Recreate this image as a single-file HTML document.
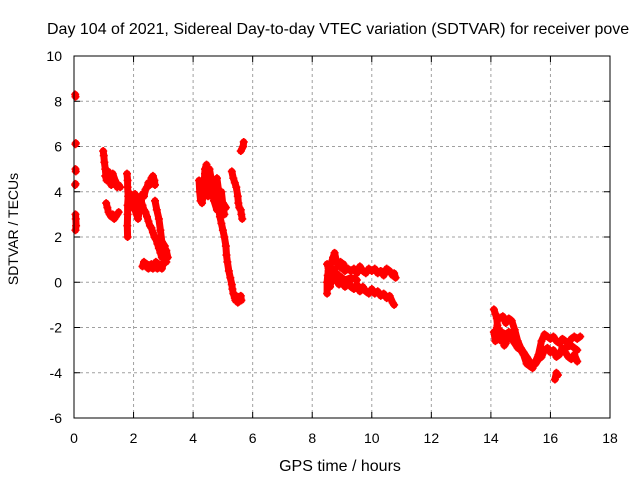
<!DOCTYPE html>
<html><head><meta charset="utf-8"><style>
body{margin:0;background:#fff}
svg{display:block;font-family:"Liberation Sans",sans-serif}
</style></head><body>
<svg id="chart" width="640" height="480">
<text x="47" y="34" font-size="16" text-anchor="start">Day 104 of 2021, Sidereal Day-to-day VTEC variation (SDTVAR) for receiver pove</text>
<text x="340" y="471" font-size="16" text-anchor="middle">GPS time / hours</text>
<text transform="translate(18,229) rotate(-90)" font-size="14" text-anchor="middle">SDTVAR / TECUs</text>
<g id="grid"></g><g id="ticks"></g><g id="marks"></g>
<rect x="74" y="56" width="536" height="362" fill="none" stroke="#000"/>
</svg>
<script>
const xTicks=[0,2,4,6,8,10,12,14,16,18];
const yTicks=[-6,-4,-2,0,2,4,6,8,10];
// null separates disjoint tracks
const timesA=[0.04,0.05,null,0.05,0.06,null,0.05,0.06,null,0.04,0.05,null,0.05,0.07,0.06,0.05];
const valuesA=[8.3,8.2,null,6.1,6.15,null,5.0,4.9,null,4.3,4.35,null,2.3,2.5,2.8,3.0];
const timesB=[0.98,1.0,1.02,1.05,1.07,1.1,1.12,1.15,1.2,1.25,1.3,1.35,1.4,1.45,1.5,1.55,null,1.08,1.12,1.16,1.2,1.25,1.3,1.35,1.4,1.45,1.5,null,1.05,1.1,1.15,1.2,1.3,1.38];
const valuesB=[5.8,5.6,5.3,5.0,4.7,4.5,4.8,4.6,4.5,4.3,4.6,4.4,4.4,4.2,4.3,4.2,null,3.5,3.3,3.1,3.0,2.9,3.0,2.8,2.9,3.0,3.1,null,4.7,4.5,4.9,4.6,4.8,4.5];
const timesC=[1.78,1.8,1.8,1.82,1.8,1.8,1.79,1.8,null,1.85,1.9,1.95,2.0,2.05,2.1,2.15,2.2,2.25,2.3,2.35,2.4,2.45,2.5,2.55,2.6,2.65,2.7,2.72];
const valuesC=[4.8,4.5,4.2,3.8,3.4,3.0,2.5,2.0,null,3.5,3.3,3.8,3.6,3.9,3.7,3.4,3.3,3.6,3.9,3.8,4.1,4.2,4.4,4.3,4.6,4.7,4.5,4.3];
const timesD=[1.9,1.95,2.0,2.05,2.1,2.15,2.2,2.25,2.3,2.35,2.4,2.45,2.5,2.55,2.6,2.65,2.7,2.75,2.8,2.85,2.9,2.95,3.0,3.05,3.1,3.15,null,2.72,2.78,2.85,2.9,2.95,3.05];
const valuesD=[3.9,3.6,3.4,3.2,3.0,2.8,3.2,3.6,3.4,3.2,3.1,2.9,2.7,2.5,2.4,2.2,2.0,1.9,1.7,1.5,1.3,1.1,1.2,1.5,1.4,1.1,null,3.6,3.2,2.8,2.3,1.8,1.6];
const timesE=[2.3,2.35,2.4,2.45,2.5,2.55,2.6,2.65,2.7,2.75,2.8,2.85,2.9,2.95,3.0,3.05,3.1];
const valuesE=[0.7,0.9,0.7,0.8,0.6,0.7,0.8,0.6,0.7,0.9,0.6,0.8,0.7,0.6,0.8,1.0,0.9];
const timesF=[4.2,4.22,4.25,4.3,4.35,4.4,4.45,4.5,4.55,4.6,4.65,4.7,4.75,4.8,4.85,4.9,4.95,5.0,5.05,null,4.3,4.4,4.5,4.6,4.7,4.8,4.9,5.0,5.1,null,4.4,4.6,4.75];
const valuesF=[4.5,4.0,3.6,4.3,3.9,5.0,5.2,4.9,5.0,4.6,4.2,3.8,4.4,4.6,4.1,3.7,4.0,3.4,3.0,null,3.5,4.4,3.8,4.3,3.6,3.2,3.9,3.5,3.3,null,4.8,4.5,4.2];
const timesG=[4.85,4.9,4.95,5.0,5.05,5.1,5.12,5.15,5.2,5.25,5.3,5.32,5.35,5.4,5.42,5.45,5.5,5.55,5.6,5.62];
const valuesG=[3.3,2.9,2.6,2.3,2.0,1.6,1.2,0.9,0.5,0.2,-0.1,-0.3,-0.5,-0.7,-0.8,-0.6,-0.9,-0.7,-0.6,-0.8];
const timesH=[5.3,5.35,5.4,5.45,5.5,5.52,5.55,5.6,5.62,5.65,null,5.6,5.68,5.7];
const valuesH=[4.9,4.6,4.4,4.2,3.8,3.5,3.3,3.2,3.0,2.8,null,5.8,6.0,6.2];
const timesI=[8.5,8.5,8.52,8.55,8.6,8.65,8.7,8.75,8.8,8.85,8.9,8.95,9.0,9.05,9.1,9.2,9.3,9.4,9.5,9.6,9.7,9.8,9.9,10.0,10.1,10.2,10.3,10.4,10.5,10.6,10.7,10.75,10.8,null,8.5,8.6,8.7,8.8,8.9,9.0,9.1,9.2,9.3,9.4,9.5,9.6,9.7,9.8,9.9,10.0,10.1,10.2,10.3,10.4,10.5,10.6,10.7,10.75,null,8.55,8.7,8.9,9.1,9.3,9.5,null,8.6,8.7,8.8,8.9,9.0];
const valuesI=[-0.5,0.0,0.3,0.6,0.8,0.9,1.1,1.3,1.0,0.8,0.7,0.9,0.6,0.8,0.5,0.6,0.5,0.6,0.4,0.7,0.5,0.4,0.6,0.5,0.6,0.4,0.5,0.3,0.6,0.5,0.3,0.4,0.2,null,0.8,0.4,0.2,0.1,-0.1,0.0,-0.2,0.1,-0.2,-0.3,-0.1,-0.4,-0.2,-0.4,-0.5,-0.3,-0.5,-0.4,-0.6,-0.5,-0.7,-0.6,-0.9,-1.0,null,0.5,0.2,0.3,0.1,0.2,0.1,null,-0.2,0.6,0.4,0.3,0.2];
const timesJ=[14.1,14.15,14.2,14.22,14.25,14.3,14.35,14.4,14.45,14.5,14.55,14.6,14.7,14.8,14.9,15.0,15.1,15.2,15.3,15.4,15.5,15.6,15.7,15.8,15.9,16.0,16.1,16.2,16.3,16.4,16.5,16.6,16.7,16.8,16.9,17.0,null,14.3,14.4,14.5,14.6,14.7,14.8,14.9,15.0,15.1,15.2,15.3,15.4,15.5,15.6,15.7,15.8,15.9,16.0,16.1,16.2,16.3,16.4,16.5,16.6,16.7,16.8,16.9,null,16.15,16.2,16.25,null,14.1,14.15,null,14.2,14.35,14.5,null,16.5,16.7,16.9];
const valuesJ=[-1.2,-1.4,-1.6,-1.9,-2.2,-2.4,-2.6,-2.5,-2.8,-2.7,-2.4,-2.2,-2.5,-2.7,-2.9,-3.0,-3.2,-3.6,-3.7,-3.8,-3.5,-3.2,-2.6,-2.3,-2.4,-2.5,-2.4,-2.6,-2.7,-2.5,-2.6,-2.7,-2.5,-2.4,-2.5,-2.4,null,-1.6,-1.5,-1.8,-1.6,-1.7,-2.1,-2.6,-2.9,-3.1,-3.3,-3.5,-3.7,-3.6,-3.4,-3.3,-3.0,-2.9,-3.1,-3.0,-3.3,-3.2,-2.9,-3.1,-3.3,-3.4,-3.2,-3.5,null,-4.3,-4.0,-4.1,null,-2.2,-2.6,null,-2.0,-2.2,-2.3,null,-2.9,-2.8,-3.0];
const allT=[timesA,timesB,timesC,timesD,timesE,timesF,timesG,timesH,timesI,timesJ];
const allV=[valuesA,valuesB,valuesC,valuesD,valuesE,valuesF,valuesG,valuesH,valuesI,valuesJ];
const X0=74,X1=610,Y0=418,Y1=56;
function sx(t){return X0+(t-0)/(18-0)*(X1-X0);}
function sy(v){return Y0-(v+6)/(16)*(Y0-Y1);}
const NS='http://www.w3.org/2000/svg';
const grid=document.getElementById('grid'),ticks=document.getElementById('ticks'),marks=document.getElementById('marks');
function mk(tag,attrs,parent){const e=document.createElementNS(NS,tag);for(const k in attrs)e.setAttribute(k,attrs[k]);parent.appendChild(e);return e;}
xTicks.forEach(t=>{
 const x=sx(t);
 if(t>0&&t<18){const g=mk('line',{x1:x,x2:x,y1:Y1,y2:Y0,stroke:'#a0a0a0','stroke-dasharray':'3,3'},grid);
 
 }
 mk('line',{x1:x,x2:x,y1:Y0,y2:Y0-6,stroke:'#000'},ticks);
 mk('line',{x1:x,x2:x,y1:Y1,y2:Y1+6,stroke:'#000'},ticks);
 const l=mk('text',{x:x,y:443,'font-size':14,'text-anchor':'middle'},ticks);l.textContent=t;
 
 
});
yTicks.forEach(v=>{
 const y=sy(v);
 if(v>-6&&v<10){const g=mk('line',{x1:X0,x2:X1,y1:y,y2:y,stroke:'#a0a0a0','stroke-dasharray':'3,3'},grid);
 
 }
 mk('line',{x1:X0,x2:X0+6,y1:y,y2:y,stroke:'#000'},ticks);
 mk('line',{x1:X1,x2:X1-6,y1:y,y2:y,stroke:'#000'},ticks);
 const l=mk('text',{x:62,y:y+5,'font-size':14,'text-anchor':'end'},ticks);l.textContent=v;
 
 
});
allT.forEach((ts,i)=>{
 let d='',pen=false;
 ts.forEach((t,j)=>{
  const v=allV[i][j];
  if(t===null||v===null){pen=false;return;}
  const x=sx(t),y=sy(v);
  d+=(pen?'L':'M')+x.toFixed(1)+','+y.toFixed(1);pen=true;
  const p=mk('path',{d:`M${x-4},${y}H${x+4}M${x},${y-4}V${y+4}`,stroke:'#f00','stroke-width':1.6},marks);
  
  
 });
 const tr=mk('path',{d:d,fill:'none',stroke:'#f00','stroke-width':7,'stroke-linejoin':'round','stroke-linecap':'round'},marks);
 
 
});
</script>
</body></html>
